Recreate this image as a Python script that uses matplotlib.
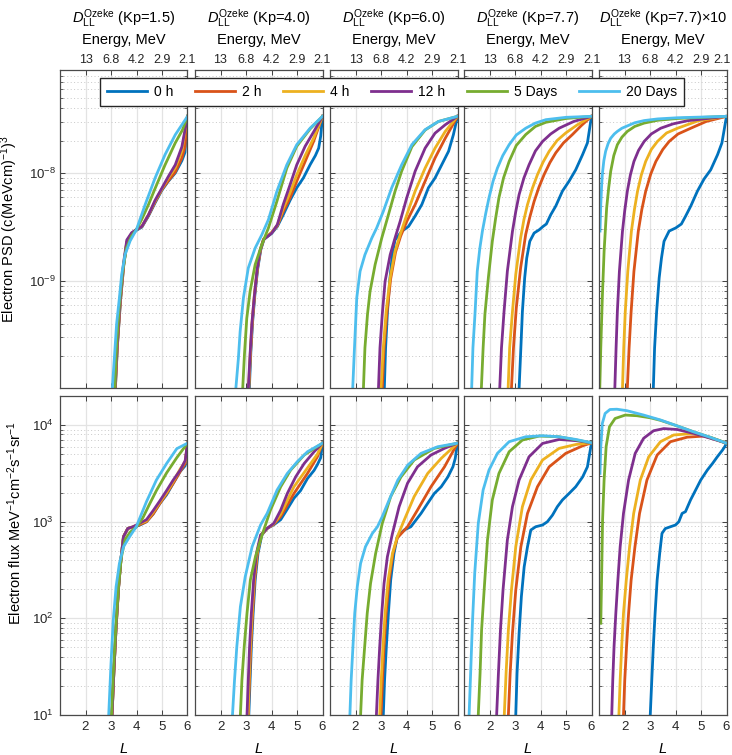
import matplotlib.pyplot as plt
from matplotlib.ticker import LogLocator, NullFormatter
from matplotlib.transforms import ScaledTranslation

plt.rcParams['font.family'] = ['Liberation Sans', 'DejaVu Sans']
plt.rcParams['mathtext.fontset'] = 'custom'
plt.rcParams['mathtext.rm'] = 'Liberation Sans'
plt.rcParams['mathtext.it'] = 'Liberation Sans:italic'
plt.rcParams['mathtext.default'] = 'regular'

# Serie czasowe i kolory (MATLAB)
times = ['0 h', '2 h', '4 h', '12 h', '5 Days', '20 Days']
colors = ['#0072BD', '#D95319', '#EDB120', '#7E2F8E', '#77AC30', '#4DBEEE']

kp_titles = ['(Kp=1.5)', '(Kp=4.0)', '(Kp=6.0)', '(Kp=7.7)', '(Kp=7.7)×10']
L_ticks = [2, 3, 4, 5, 6]
energy_labels = ['13', '6.8', '4.2', '2.9', '2.1']

# ---- PSD (górny rząd), każda seria: (L, wartości) ----
psd_kp15 = [
    ([3.17, 3.25, 3.37, 3.5, 3.62, 3.81, 4.0, 4.21, 4.47, 4.73, 4.99, 5.25, 5.52, 5.78, 5.9, 6.0],
     [1.0e-10, 2.5e-10, 6.5e-10, 1.4e-9, 2.25e-9, 2.7e-9, 2.95e-9, 3.15e-9, 4.0e-9, 5.3e-9, 6.9e-9, 8.4e-9, 1.0e-8, 1.3e-8, 1.55e-8, 3.35e-8]),
    ([3.17, 3.25, 3.37, 3.5, 3.62, 3.81, 4.0, 4.21, 4.47, 4.73, 4.99, 5.25, 5.52, 5.78, 5.9, 6.0],
     [1.0e-10, 2.5e-10, 6.5e-10, 1.4e-9, 2.3e-9, 2.75e-9, 3.0e-9, 3.2e-9, 4.05e-9, 5.4e-9, 7.0e-9, 8.5e-9, 1.02e-8, 1.38e-8, 1.75e-8, 3.35e-8]),
    ([3.16, 3.24, 3.36, 3.49, 3.62, 3.81, 4.0, 4.21, 4.47, 4.73, 4.99, 5.25, 5.52, 5.78, 6.0],
     [1.0e-10, 2.5e-10, 6.5e-10, 1.4e-9, 2.3e-9, 2.75e-9, 3.0e-9, 3.2e-9, 4.1e-9, 5.5e-9, 7.1e-9, 9.0e-9, 1.12e-8, 1.6e-8, 3.35e-8]),
    ([3.16, 3.24, 3.36, 3.49, 3.62, 3.81, 4.0, 4.21, 4.47, 4.73, 4.99, 5.25, 5.52, 5.78, 6.0],
     [1.0e-10, 2.5e-10, 6.5e-10, 1.45e-9, 2.4e-9, 2.8e-9, 3.0e-9, 3.2e-9, 4.1e-9, 5.6e-9, 7.2e-9, 9.3e-9, 1.19e-8, 1.75e-8, 3.35e-8]),
    ([3.15, 3.22, 3.33, 3.45, 3.6, 3.8, 4.0, 4.2, 4.47, 4.73, 5.12, 5.52, 5.8, 6.0],
     [1.0e-10, 2.5e-10, 6.0e-10, 1.2e-9, 2.0e-9, 2.6e-9, 3.0e-9, 3.7e-9, 5.1e-9, 7.2e-9, 1.19e-8, 1.9e-8, 2.5e-8, 3.35e-8]),
    ([3.05, 3.13, 3.22, 3.33, 3.42, 3.55, 3.75, 4.0, 4.34, 4.73, 5.12, 5.52, 6.0],
     [1.0e-10, 1.9e-10, 4.0e-10, 7.0e-10, 1.15e-9, 1.75e-9, 2.35e-9, 3.0e-9, 5.1e-9, 9.0e-9, 1.48e-8, 2.26e-8, 3.35e-8]),
]

psd_kp40 = [
    ([3.13, 3.19, 3.26, 3.35, 3.46, 3.58, 3.71, 4.0, 4.23, 4.46, 4.73, 4.99, 5.25, 5.52, 5.72, 5.85, 5.93, 6.0],
     [1.0e-10, 2.2e-10, 4.2e-10, 7.5e-10, 1.3e-9, 1.95e-9, 2.45e-9, 2.75e-9, 3.2e-9, 4.1e-9, 5.6e-9, 7.3e-9, 9.0e-9, 1.2e-8, 1.45e-8, 1.7e-8, 2.2e-8, 3.35e-8]),
    ([3.11, 3.18, 3.25, 3.34, 3.45, 3.57, 3.70, 4.0, 4.23, 4.46, 4.73, 4.99, 5.32, 5.65, 6.0],
     [1.0e-10, 2.2e-10, 4.2e-10, 7.5e-10, 1.3e-9, 1.95e-9, 2.45e-9, 2.8e-9, 3.25e-9, 4.4e-9, 5.9e-9, 8.4e-9, 1.28e-8, 1.96e-8, 3.35e-8]),
    ([3.10, 3.17, 3.24, 3.33, 3.44, 3.56, 3.69, 4.0, 4.23, 4.46, 4.73, 4.99, 5.32, 5.65, 6.0],
     [1.0e-10, 2.2e-10, 4.2e-10, 7.5e-10, 1.3e-9, 1.95e-9, 2.45e-9, 2.8e-9, 3.3e-9, 4.7e-9, 6.6e-9, 9.6e-9, 1.45e-8, 2.1e-8, 3.35e-8]),
    ([3.09, 3.16, 3.23, 3.32, 3.43, 3.55, 3.68, 4.01, 4.23, 4.46, 4.73, 4.99, 5.32, 5.65, 6.0],
     [1.0e-10, 2.1e-10, 4.0e-10, 7.0e-10, 1.25e-9, 1.9e-9, 2.4e-9, 2.78e-9, 3.33e-9, 5.1e-9, 7.8e-9, 1.19e-8, 1.77e-8, 2.4e-8, 3.35e-8]),
    ([2.87, 2.94, 3.03, 3.16, 3.36, 3.62, 3.88, 4.21, 4.60, 4.99, 5.52, 6.0],
     [1.0e-10, 2.1e-10, 4.5e-10, 8.0e-10, 1.42e-9, 2.17e-9, 3.1e-9, 5.46e-9, 1.11e-8, 1.77e-8, 2.57e-8, 3.35e-8]),
    ([2.60, 2.70, 2.77, 2.90, 3.09, 3.36, 3.62, 3.88, 4.21, 4.60, 4.99, 5.52, 6.0],
     [1.0e-10, 1.9e-10, 3.4e-10, 7.0e-10, 1.32e-9, 2.02e-9, 2.68e-9, 3.7e-9, 6.76e-9, 1.19e-8, 1.83e-8, 2.61e-8, 3.35e-8]),
]

psd_kp60 = [
    ([3.13, 3.18, 3.25, 3.34, 3.45, 3.55, 3.81, 4.08, 4.34, 4.60, 4.86, 5.12, 5.38, 5.65, 5.84, 6.0],
     [1.0e-10, 2.4e-10, 5.0e-10, 1.0e-9, 1.8e-9, 2.4e-9, 2.88e-9, 3.2e-9, 4.0e-9, 5.1e-9, 7.3e-9, 9.0e-9, 1.19e-8, 1.59e-8, 2.27e-8, 3.35e-8]),
    ([3.05, 3.12, 3.23, 3.38, 3.57, 3.77, 4.01, 4.34, 4.73, 5.12, 5.52, 6.0],
     [1.0e-10, 2.4e-10, 5.0e-10, 1.05e-9, 1.85e-9, 2.6e-9, 3.56e-9, 5.1e-9, 8.4e-9, 1.38e-8, 2.1e-8, 3.35e-8]),
    ([3.0, 3.09, 3.20, 3.36, 3.55, 3.75, 4.01, 4.34, 4.73, 5.12, 5.52, 6.0],
     [1.0e-10, 2.4e-10, 5.2e-10, 1.07e-9, 1.88e-9, 2.68e-9, 4.1e-9, 6.8e-9, 1.11e-8, 1.70e-8, 2.43e-8, 3.35e-8]),
    ([2.90, 2.96, 3.05, 3.16, 3.36, 3.55, 3.75, 4.01, 4.34, 4.73, 5.12, 5.52, 6.0],
     [1.0e-10, 2.4e-10, 4.9e-10, 9.9e-10, 1.75e-9, 2.5e-9, 3.56e-9, 5.9e-9, 1.04e-8, 1.70e-8, 2.34e-8, 2.8e-8, 3.35e-8]),
    ([2.31, 2.37, 2.47, 2.57, 2.77, 3.03, 3.29, 3.55, 3.81, 4.21, 4.73, 5.25, 6.0],
     [1.0e-10, 2.4e-10, 4.9e-10, 8.0e-10, 1.42e-9, 2.5e-9, 4.1e-9, 6.76e-9, 1.04e-8, 1.75e-8, 2.5e-8, 3.0e-8, 3.35e-8]),
    ([1.89, 1.96, 2.05, 2.18, 2.37, 2.64, 2.83, 3.09, 3.42, 3.81, 4.21, 4.73, 5.25, 6.0],
     [1.0e-10, 2.4e-10, 7.0e-10, 1.23e-9, 1.75e-9, 2.5e-9, 3.1e-9, 4.41e-9, 7.3e-9, 1.19e-8, 1.83e-8, 2.52e-8, 3.0e-8, 3.35e-8]),
]

psd_kp77 = [
    ([3.16, 3.23, 3.29, 3.38, 3.46, 3.58, 3.75, 3.95, 4.1, 4.23, 4.40, 4.60, 4.86, 5.12, 5.38, 5.65, 5.84, 6.0],
     [1.0e-10, 2.4e-10, 5.2e-10, 1.07e-9, 1.63e-9, 2.33e-9, 2.78e-9, 2.98e-9, 3.2e-9, 3.37e-9, 4.1e-9, 4.95e-9, 6.8e-9, 8.4e-9, 1.07e-8, 1.48e-8, 1.9e-8, 3.35e-8]),
    ([2.86, 2.94, 3.05, 3.22, 3.42, 3.58, 3.75, 3.94, 4.14, 4.37, 4.60, 4.9, 5.25, 5.6, 6.0],
     [1.0e-10, 2.4e-10, 5.6e-10, 1.32e-9, 2.7e-9, 3.9e-9, 5.46e-9, 7.4e-9, 9.65e-9, 1.25e-8, 1.54e-8, 1.9e-8, 2.27e-8, 2.75e-8, 3.35e-8]),
    ([2.73, 2.79, 2.90, 3.03, 3.22, 3.35, 3.49, 3.68, 3.88, 4.1, 4.34, 4.65, 4.99, 5.45, 6.0],
     [1.0e-10, 2.4e-10, 5.2e-10, 1.15e-9, 2.5e-9, 3.7e-9, 5.1e-9, 7.2e-9, 9.65e-9, 1.26e-8, 1.59e-8, 2.0e-8, 2.35e-8, 2.8e-8, 3.35e-8]),
    ([2.40, 2.47, 2.57, 2.70, 2.90, 3.03, 3.16, 3.35, 3.55, 3.8, 4.08, 4.4, 4.73, 5.3, 6.0],
     [1.0e-10, 2.4e-10, 5.2e-10, 1.23e-9, 2.88e-9, 4.4e-9, 6.3e-9, 9.0e-9, 1.19e-8, 1.6e-8, 1.96e-8, 2.3e-8, 2.6e-8, 3.0e-8, 3.35e-8]),
    ([1.68, 1.75, 1.82, 1.96, 2.11, 2.24, 2.37, 2.55, 2.77, 3.05, 3.42, 3.8, 4.21, 5.0, 6.0],
     [1.0e-10, 2.4e-10, 4.9e-10, 1.1e-9, 2.33e-9, 3.8e-9, 5.9e-9, 9.0e-9, 1.28e-8, 1.8e-8, 2.27e-8, 2.7e-8, 2.95e-8, 3.2e-8, 3.35e-8]),
    ([1.30, 1.35, 1.43, 1.52, 1.62, 1.72, 1.85, 1.98, 2.14, 2.31, 2.52, 2.77, 3.05, 3.42, 3.8, 4.21, 5.0, 6.0],
     [1.0e-10, 2.4e-10, 4.9e-10, 1.23e-9, 2.0e-9, 2.88e-9, 4.2e-9, 5.9e-9, 8.4e-9, 1.11e-8, 1.45e-8, 1.83e-8, 2.25e-8, 2.6e-8, 2.9e-8, 3.12e-8, 3.28e-8, 3.35e-8]),
]

psd_kp77x10 = [
    ([3.13, 3.18, 3.26, 3.36, 3.45, 3.55, 3.75, 4.01, 4.23, 4.40, 4.60, 4.86, 5.12, 5.38, 5.65, 5.82, 6.0],
     [1.0e-10, 2.4e-10, 5.2e-10, 1.07e-9, 1.63e-9, 2.33e-9, 2.9e-9, 3.1e-9, 3.37e-9, 4.0e-9, 4.95e-9, 6.8e-9, 8.8e-9, 1.07e-8, 1.48e-8, 1.9e-8, 3.35e-8]),
    ([2.11, 2.18, 2.26, 2.37, 2.54, 2.68, 2.83, 3.03, 3.23, 3.5, 3.75, 4.1, 4.60, 5.2, 6.0],
     [1.0e-10, 2.4e-10, 5.2e-10, 1.23e-9, 2.88e-9, 4.6e-9, 6.76e-9, 9.8e-9, 1.28e-8, 1.65e-8, 1.96e-8, 2.3e-8, 2.6e-8, 3.0e-8, 3.35e-8]),
    ([1.92, 1.97, 2.03, 2.13, 2.27, 2.39, 2.51, 2.66, 2.83, 3.05, 3.29, 3.65, 4.08, 4.9, 6.0],
     [1.0e-10, 2.4e-10, 5.2e-10, 1.23e-9, 2.88e-9, 4.6e-9, 6.76e-9, 9.6e-9, 1.28e-8, 1.65e-8, 1.96e-8, 2.35e-8, 2.6e-8, 3.05e-8, 3.35e-8]),
    ([1.62, 1.67, 1.72, 1.80, 1.92, 2.01, 2.11, 2.23, 2.37, 2.55, 2.77, 3.05, 3.42, 3.9, 4.47, 6.0],
     [1.0e-10, 2.4e-10, 5.2e-10, 1.23e-9, 2.88e-9, 4.5e-9, 6.76e-9, 9.6e-9, 1.28e-8, 1.62e-8, 1.96e-8, 2.3e-8, 2.6e-8, 2.85e-8, 3.05e-8, 3.35e-8]),
    ([1.03, 1.07, 1.13, 1.20, 1.25, 1.30, 1.38, 1.46, 1.58, 1.72, 1.9, 2.11, 2.4, 2.77, 3.3, 4.08, 6.0],
     [1.0e-10, 2.4e-10, 7.0e-10, 1.88e-9, 3.0e-9, 4.74e-9, 7.3e-9, 1.04e-8, 1.45e-8, 1.83e-8, 2.15e-8, 2.43e-8, 2.7e-8, 2.9e-8, 3.08e-8, 3.2e-8, 3.35e-8]),
    ([1.04, 1.07, 1.10, 1.13, 1.19, 1.26, 1.36, 1.46, 1.6, 1.72, 1.9, 2.11, 2.4, 2.77, 3.3, 4.08, 6.0],
     [2.9e-9, 5.1e-9, 7.4e-9, 9.7e-9, 1.3e-8, 1.59e-8, 1.88e-8, 2.1e-8, 2.3e-8, 2.43e-8, 2.6e-8, 2.73e-8, 2.92e-8, 3.06e-8, 3.17e-8, 3.25e-8, 3.35e-8]),
]

# ---- Strumień (dolny rząd) ----
flux_kp15 = [
    ([3.04, 3.11, 3.2, 3.30, 3.40, 3.49, 3.66, 3.86, 4.12, 4.39, 4.65, 4.92, 5.18, 5.44, 5.71, 5.91, 6.0],
     [10, 27, 82, 213, 434, 700, 853, 880, 920, 1.0e3, 1.2e3, 1.55e3, 1.9e3, 2.5e3, 3.3e3, 3.8e3, 6.5e3]),
    ([3.04, 3.11, 3.2, 3.30, 3.40, 3.49, 3.66, 3.86, 4.12, 4.39, 4.65, 4.92, 5.18, 5.44, 5.71, 5.91, 6.0],
     [10, 27, 82, 213, 434, 700, 853, 880, 930, 1.0e3, 1.2e3, 1.55e3, 1.95e3, 2.5e3, 3.3e3, 4.0e3, 6.5e3]),
    ([3.04, 3.11, 3.2, 3.30, 3.40, 3.49, 3.66, 3.86, 4.12, 4.39, 4.65, 4.92, 5.18, 5.44, 5.71, 5.91, 6.0],
     [10, 27, 82, 213, 434, 700, 853, 885, 950, 1.02e3, 1.25e3, 1.6e3, 2.0e3, 2.6e3, 3.5e3, 4.2e3, 6.5e3]),
    ([3.04, 3.11, 3.2, 3.30, 3.40, 3.49, 3.66, 3.86, 4.12, 4.39, 4.65, 4.92, 5.18, 5.44, 5.71, 5.91, 6.0],
     [10, 27, 82, 213, 434, 700, 853, 887, 962, 1.05e3, 1.3e3, 1.65e3, 2.1e3, 2.7e3, 3.4e3, 4.3e3, 6.5e3]),
    ([3.02, 3.1, 3.2, 3.3, 3.4, 3.55, 3.75, 3.99, 4.25, 4.5, 4.78, 5.18, 5.58, 6.0],
     [10, 30, 90, 220, 420, 650, 780, 880, 1.1e3, 1.5e3, 2.1e3, 3.2e3, 4.6e3, 6.5e3]),
    ([2.91, 3.0, 3.09, 3.2, 3.33, 3.49, 3.73, 3.99, 4.39, 4.78, 5.18, 5.58, 6.0],
     [10, 34, 96, 213, 371, 551, 700, 887, 1.61e3, 2.7e3, 4.0e3, 5.7e3, 6.5e3]),
]

flux_kp40 = [
    ([3.11, 3.16, 3.21, 3.28, 3.36, 3.47, 3.62, 3.83, 4.09, 4.36, 4.62, 4.88, 5.14, 5.41, 5.67, 5.8, 5.93, 6.0],
     [10, 23, 51, 113, 249, 470, 728, 853, 930, 1.05e3, 1.35e3, 1.75e3, 2.1e3, 2.8e3, 3.4e3, 3.9e3, 4.6e3, 6.5e3]),
    ([3.09, 3.14, 3.19, 3.26, 3.34, 3.45, 3.6, 3.83, 4.09, 4.36, 4.88, 5.41, 5.8, 6.0],
     [10, 23, 51, 113, 249, 470, 728, 853, 940, 1.13e3, 1.96e3, 3.16e3, 4.7e3, 6.5e3]),
    ([3.08, 3.12, 3.17, 3.24, 3.32, 3.43, 3.59, 3.83, 4.09, 4.36, 4.88, 5.41, 5.8, 6.0],
     [10, 23, 51, 113, 249, 470, 728, 853, 950, 1.2e3, 2.3e3, 3.6e3, 5.0e3, 6.5e3]),
    ([3.04, 3.09, 3.14, 3.21, 3.30, 3.41, 3.57, 3.83, 4.09, 4.36, 4.62, 4.95, 5.28, 5.67, 6.0],
     [10, 23, 51, 113, 249, 470, 728, 853, 962, 1.32e3, 1.96e3, 2.92e3, 4.0e3, 5.3e3, 6.5e3]),
    ([2.78, 2.84, 2.93, 3.04, 3.17, 3.37, 3.63, 3.96, 4.36, 4.75, 5.28, 6.0],
     [10, 23, 51, 113, 249, 434, 728, 1.32e3, 2.3e3, 3.42e3, 4.9e3, 6.5e3]),
    ([2.47, 2.55, 2.64, 2.78, 2.97, 3.24, 3.57, 3.83, 4.22, 4.62, 5.01, 5.41, 6.0],
     [10, 23, 51, 132, 270, 551, 925, 1.22e3, 2.13e3, 3.16e3, 4.18e3, 5.3e3, 6.5e3]),
]

flux_kp60 = [
    ([3.09, 3.14, 3.21, 3.29, 3.38, 3.51, 3.64, 3.91, 4.17, 4.37, 4.57, 4.83, 5.09, 5.36, 5.62, 5.82, 5.91, 6.0],
     [10, 23, 51, 113, 249, 470, 700, 821, 887, 1.04e3, 1.22e3, 1.55e3, 1.96e3, 2.3e3, 2.9e3, 3.7e3, 4.5e3, 6.5e3]),
    ([3.0, 3.06, 3.12, 3.2, 3.32, 3.47, 3.64, 4.04, 4.43, 4.96, 5.49, 6.0],
     [10, 23, 51, 113, 249, 470, 680, 887, 1.32e3, 2.3e3, 3.7e3, 6.5e3]),
    ([2.95, 3.01, 3.08, 3.16, 3.28, 3.45, 3.64, 3.91, 4.30, 4.83, 5.36, 6.0],
     [10, 23, 51, 113, 249, 470, 700, 1.04e3, 1.82e3, 3.16e3, 4.52e3, 6.5e3]),
    ([2.82, 2.88, 2.95, 3.03, 3.12, 3.25, 3.45, 3.71, 4.04, 4.43, 4.96, 5.49, 6.0],
     [10, 23, 51, 113, 230, 434, 757, 1.43e3, 2.5e3, 3.7e3, 4.9e3, 5.75e3, 6.5e3]),
    ([2.20, 2.26, 2.36, 2.46, 2.59, 2.79, 3.05, 3.38, 3.78, 4.30, 5.09, 6.0],
     [10, 23, 51, 113, 230, 470, 962, 1.82e3, 2.9e3, 4.35e3, 5.74e3, 6.5e3]),
    ([1.78, 1.83, 1.90, 1.97, 2.07, 2.20, 2.39, 2.66, 2.86, 3.05, 3.32, 3.66, 4.05, 4.57, 5.22, 6.0],
     [10, 23, 51, 113, 213, 371, 551, 757, 887, 1.13e3, 1.68e3, 2.7e3, 3.86e3, 5.1e3, 5.97e3, 6.5e3]),
]

flux_kp77 = [
    ([3.03, 3.08, 3.16, 3.25, 3.36, 3.49, 3.62, 3.81, 4.08, 4.27, 4.47, 4.66, 4.86, 5.12, 5.38, 5.65, 5.84, 6.0],
     [10, 27, 70, 168, 342, 551, 820, 887, 925, 1.0e3, 1.17e3, 1.43e3, 1.68e3, 1.96e3, 2.3e3, 2.9e3, 3.7e3, 6.56e3]),
    ([2.74, 2.81, 2.90, 3.03, 3.23, 3.49, 3.88, 4.34, 4.99, 5.65, 6.0],
     [10, 27, 70, 196, 551, 1.22e3, 2.3e3, 3.7e3, 5.1e3, 6.1e3, 6.56e3]),
    ([2.58, 2.65, 2.74, 2.86, 3.03, 3.29, 3.62, 4.08, 4.73, 5.39, 6.0],
     [10, 27, 76, 196, 551, 1.43e3, 2.7e3, 4.35e3, 5.74e3, 6.3e3, 6.56e3]),
    ([2.28, 2.35, 2.43, 2.53, 2.70, 2.90, 3.16, 3.55, 4.08, 4.73, 5.39, 6.0],
     [10, 27, 76, 196, 646, 1.43e3, 2.7e3, 4.7e3, 6.46e3, 7.1e3, 6.9e3, 6.56e3]),
    ([1.56, 1.63, 1.69, 1.79, 1.92, 2.11, 2.37, 2.77, 3.29, 3.95, 4.73, 6.0],
     [10, 27, 76, 196, 646, 1.68e3, 3.16e3, 5.3e3, 7.0e3, 7.7e3, 7.57e3, 6.56e3]),
    ([1.20, 1.26, 1.33, 1.42, 1.56, 1.75, 1.98, 2.31, 2.77, 3.42, 4.08, 4.73, 5.39, 6.0],
     [10, 27, 89, 292, 962, 2.13e3, 3.42e3, 5.1e3, 6.73e3, 7.57e3, 7.76e3, 7.57e3, 7.1e3, 6.56e3]),
]

flux_kp77x10 = [
    ([3.01, 3.07, 3.13, 3.20, 3.28, 3.38, 3.47, 3.60, 3.80, 4.0, 4.13, 4.26, 4.39, 4.59, 4.72, 4.99, 5.25, 5.45, 5.64, 5.84, 5.93, 6.0],
     [10, 23, 51, 113, 249, 470, 757, 850, 887, 925, 1.0e3, 1.22e3, 1.27e3, 1.68e3, 1.96e3, 2.7e3, 3.43e3, 4.0e3, 4.7e3, 5.5e3, 5.97e3, 6.5e3]),
    ([1.96, 2.01, 2.08, 2.16, 2.26, 2.41, 2.59, 2.88, 3.28, 3.80, 4.46, 5.12, 5.64, 6.0],
     [10, 23, 51, 113, 249, 551, 1.22e3, 2.7e3, 4.9e3, 6.73e3, 7.5e3, 7.7e3, 7.0e3, 6.5e3]),
    ([1.78, 1.83, 1.89, 1.96, 2.07, 2.20, 2.36, 2.62, 2.95, 3.41, 3.93, 4.72, 5.38, 6.0],
     [10, 23, 51, 113, 249, 551, 1.22e3, 2.7e3, 4.7e3, 6.73e3, 7.9e3, 8.2e3, 7.45e3, 6.5e3]),
    ([1.50, 1.54, 1.59, 1.66, 1.74, 1.83, 1.96, 2.16, 2.42, 2.75, 3.14, 3.54, 4.07, 4.72, 5.38, 6.0],
     [10, 23, 51, 113, 249, 551, 1.22e3, 2.7e3, 5.1e3, 7.3e3, 8.74e3, 9.2e3, 9.0e3, 8.2e3, 7.3e3, 6.5e3]),
    ([1.07, 1.11, 1.14, 1.20, 1.28, 1.41, 1.63, 2.03, 2.49, 3.01, 3.41, 4.07, 4.72, 5.38, 6.0],
     [89, 342, 1.04e3, 2.7e3, 6.0e3, 9.6e3, 1.17e4, 1.27e4, 1.25e4, 1.19e4, 1.12e4, 9.8e3, 8.5e3, 7.45e3, 6.5e3]),
    ([1.04, 1.07, 1.13, 1.24, 1.43, 1.70, 2.09, 2.75, 3.41, 4.07, 4.72, 5.38, 6.0],
     [3.16e3, 5.97e3, 1.04e4, 1.32e4, 1.45e4, 1.46e4, 1.41e4, 1.27e4, 1.13e4, 9.8e3, 8.5e3, 7.45e3, 6.5e3]),
]

psd_panels = [psd_kp15, psd_kp40, psd_kp60, psd_kp77, psd_kp77x10]
flux_panels = [flux_kp15, flux_kp40, flux_kp60, flux_kp77, flux_kp77x10]

W, H = 732, 755
fig = plt.figure(figsize=(W / 100, H / 100), dpi=100)

lefts = [60, 195, 330, 464, 599]
ax_w = 127.5
rows = [(70, 388), (396, 715)]


def style_axis(ax, ylim):
    ax.set_yscale('log')
    ax.set_xlim(1, 6)
    ax.set_ylim(*ylim)
    ax.set_xticks(L_ticks)
    ax.yaxis.set_minor_locator(LogLocator(base=10, subs=range(2, 10)))
    ax.yaxis.set_minor_formatter(NullFormatter())
    ax.tick_params(which='both', direction='in', top=True, right=True,
                   labelsize=9.5, colors='#262626', pad=4.5)
    ax.tick_params(which='major', length=3.5, width=0.6)
    ax.tick_params(which='minor', length=2, width=0.5)
    ax.grid(which='major', color='#e3e3e3', lw=0.9)
    ax.grid(which='minor', axis='y', color='#c8c8c8', lw=0.7, ls=(0, (1, 2.5)))
    ax.set_axisbelow(True)
    for s in ax.spines.values():
        s.set_color('#4a4a4a')
        s.set_linewidth(0.9)


for col in range(5):
    for row in range(2):
        top, bot = rows[row]
        ax = fig.add_axes([lefts[col] / W, 1 - bot / H, ax_w / W, (bot - top) / H])
        data = psd_panels[col] if row == 0 else flux_panels[col]
        for (Ls, vals), c in zip(data, colors):
            ax.plot(Ls, vals, color=c, lw=2, solid_joinstyle='round')
        if row == 0:
            style_axis(ax, (1.02e-10, 9.0e-8))
            ax.tick_params(labeltop=True, labelbottom=False, pad=3)
            ax.set_xticklabels(energy_labels, fontsize=9)
            if col == 4:
                # ostatnia etykieta przy samej krawędzi rysunku
                lbl = ax.get_xticklabels()[-1]
                lbl.set_transform(lbl.get_transform() +
                                  ScaledTranslation(-4 / 100, 0, fig.dpi_scale_trans))
            ax.text(0.5, 1 + 30 / 318, 'Energy, MeV', transform=ax.transAxes,
                    ha='center', va='center', fontsize=10.5)
            ax.text(0.5, 1 + 52 / 318,
                    r'$\it{D}_{\rm LL}^{\rm Ozeke}$ ' + kp_titles[col],
                    transform=ax.transAxes, ha='center', va='center', fontsize=10.5)
            if col == 0:
                ax.set_ylabel(r'Electron PSD (c(MeVcm)$^{-1}$)$^3$', fontsize=10.5)
                ax.yaxis.set_label_coords(-0.31, 0.5)
        else:
            style_axis(ax, (10, 2e4))
            ax.set_xlabel('L', fontstyle='italic', fontsize=10.5, labelpad=6)
            if col == 0:
                ax.set_ylabel(r'Electron flux MeV$^{-1}$cm$^{-2}$s$^{-1}$sr$^{-1}$',
                              fontsize=10.5)
                ax.yaxis.set_label_coords(-0.28, 0.6)
        if col > 0:
            ax.tick_params(labelleft=False)

handles = [plt.Line2D([], [], color=c, lw=2) for c in colors]
fig.legend(handles, times, ncol=6, loc='center',
           bbox_to_anchor=(392 / W, 1 - 92 / H), frameon=True, fancybox=False,
           edgecolor='#262626', framealpha=1, fontsize=10, handlelength=2.9,
           handletextpad=0.5, columnspacing=1.55, borderpad=0.5)

fig.savefig('out.png', dpi=100)
